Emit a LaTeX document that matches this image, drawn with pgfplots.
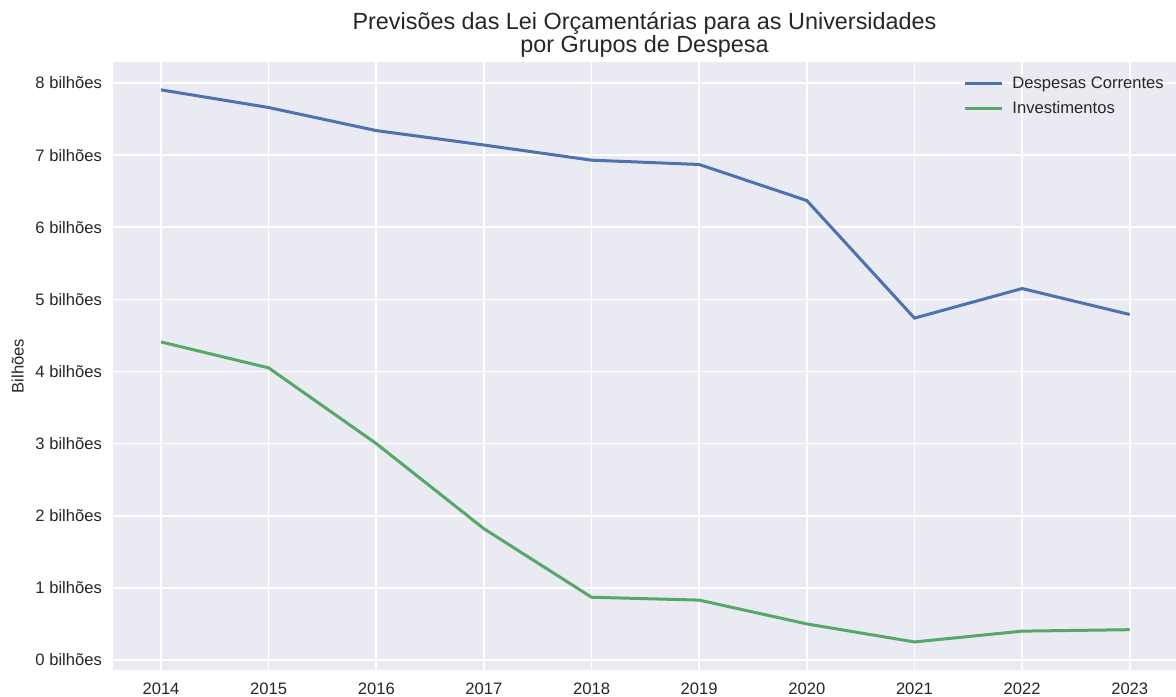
\documentclass[border=0pt]{standalone}
\usepackage{fontspec}
\setmainfont{Liberation Sans}
\usepackage{pgfplots}
\pgfplotsset{compat=1.18}
\definecolor{bgc}{HTML}{EAEAF2}
\definecolor{c1}{HTML}{4C72B0}
\definecolor{c2}{HTML}{55A868}
\definecolor{txt}{HTML}{262626}
\begin{document}
\begin{tikzpicture}
\useasboundingbox (-56.5pt,-13pt) rectangle (531.5pt,335pt);
\begin{axis}[
  name=ax,
  at={(0,0)}, anchor=south west, scale only axis,
  width=531.5pt, height=304pt,
  xmin=2013.554, xmax=2023.43, ymin=-0.139, ymax=8.291,
  axis background/.style={fill=bgc},
  axis line style={draw=none},
  grid=major, major grid style={white, line width=0.8pt},
  tick style={draw=none},
  xtick={2014,2015,2016,2017,2018,2019,2020,2021,2022,2023},
  xticklabels={2014,2015,2016,2017,2018,2019,2020,2021,2022,2023},
  ytick={0,1,2,3,4,5,6,7,8},
  yticklabels={0 bilhões,1 bilhões,2 bilhões,3 bilhões,4 bilhões,5 bilhões,6 bilhões,7 bilhões,8 bilhões},
  tick label style={font=\fontsize{8.3}{10}\selectfont, text=txt},
  xticklabel style={yshift=-3pt},
  yticklabel style={xshift=-2pt},
  ylabel={Bilhões},
  ylabel style={font=\fontsize{8.3}{10}\selectfont, text=txt, yshift=-1pt},
  legend style={at={(rel axis cs:0.7996,0.975)}, anchor=north west, draw=none, fill=none,
    font=\fontsize{8.3}{10}\selectfont, text=txt, inner xsep=0pt, inner ysep=0pt,
    row sep=1pt, xshift=0pt, yshift=2.5pt},
  legend cell align=left,
  legend image code/.code={\draw[#1, line width=1.5pt] (0pt,0pt) -- (18.5pt,0pt);},
]
\addplot[c1, line width=1.5pt] coordinates {
(2014,7.905) (2015,7.66) (2016,7.34) (2017,7.14) (2018,6.93)
(2019,6.87) (2020,6.37) (2021,4.74) (2022,5.15) (2023,4.79)};
\addlegendentry{\hspace{2.5pt}Despesas Correntes}
\addplot[c2, line width=1.5pt] coordinates {
(2014,4.41) (2015,4.05) (2016,3.00) (2017,1.82) (2018,0.87)
(2019,0.83) (2020,0.50) (2021,0.25) (2022,0.40) (2023,0.42)};
\addlegendentry{\hspace{2.5pt}Investimentos}
\end{axis}
\node[anchor=base, font=\fontsize{11.7}{14}\selectfont, text=txt] at ([yshift=16.5pt]ax.north) {Previsões das Lei Orçamentárias para as Universidades};
\node[anchor=base, font=\fontsize{11.7}{14}\selectfont, text=txt] at ([yshift=5pt]ax.north) {por Grupos de Despesa};
\end{tikzpicture}
\end{document}
